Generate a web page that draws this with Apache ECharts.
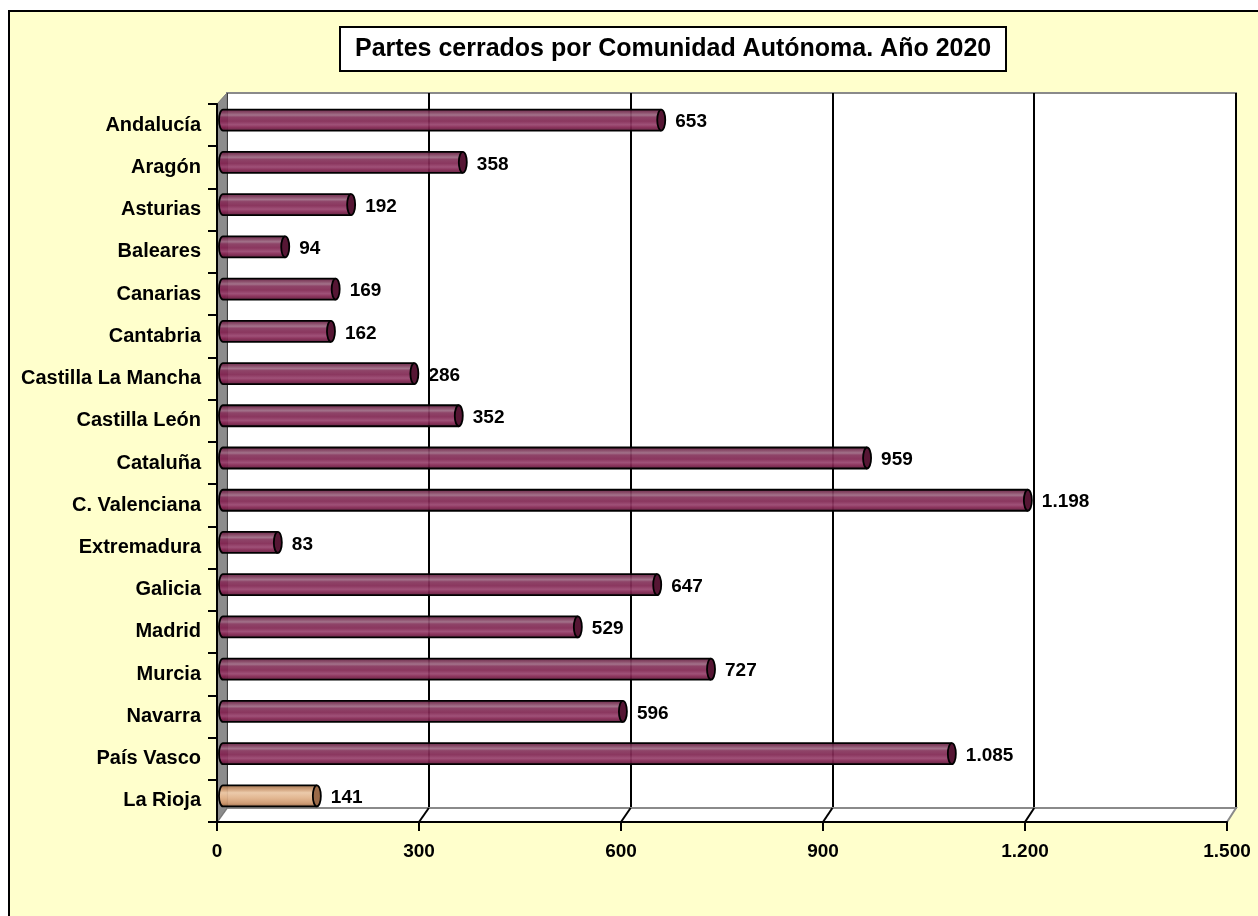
<!DOCTYPE html>
<html>
<head>
<meta charset="utf-8">
<script src="https://cdn.jsdelivr.net/npm/echarts@6/dist/echarts.min.js"></script>
<style>
html,body{margin:0;padding:0;background:#fff;}
#chart{width:1258px;height:916px;}
</style>
</head>
<body>
<div id="chart"></div>
<script>
const titleText = 'Partes cerrados por Comunidad Autónoma. Año 2020';
const categories = ['Andalucía','Aragón','Asturias','Baleares','Canarias','Cantabria','Castilla La Mancha','Castilla León','Cataluña','C. Valenciana','Extremadura','Galicia','Madrid','Murcia','Navarra','País Vasco','La Rioja'];
const values = [653,358,192,94,169,162,286,352,959,1198,83,647,529,727,596,1085,141];
const highlighted = ['La Rioja'];
const axisMin = 0, axisMax = 1500, axisStep = 300;
const axisTicks = [300, 600, 900, 1200];

const FONT = 'Liberation Sans';
function fmt(v){ return String(v).replace(/\B(?=(\d{3})+(?!\d))/g, '.'); }

const plumGrad = new echarts.graphic.LinearGradient(0,0,0,1,[
  {offset:0,color:'#621e40'},{offset:0.12,color:'#7e3a5a'},{offset:0.26,color:'#9c6882'},
  {offset:0.36,color:'#86365d'},{offset:0.55,color:'#822853'},{offset:0.72,color:'#98446e'},
  {offset:0.84,color:'#842652'},{offset:1,color:'#5c1838'}]);
const tanGrad = new echarts.graphic.LinearGradient(0,0,0,1,[
  {offset:0,color:'#a0704a'},{offset:0.2,color:'#cf9e76'},{offset:0.35,color:'#eac6a4'},
  {offset:0.6,color:'#e0b28a'},{offset:0.85,color:'#cc966c'},{offset:1,color:'#9a6944'}]);

const chart = echarts.init(document.getElementById('chart'));
chart.setOption({
  backgroundColor:'#ffffcc',
  animation:false,
  title:{
    text:titleText, left:340, top:27,
    padding:[10,15,9,15],
    backgroundColor:'#fff', borderColor:'#000', borderWidth:2,
    textStyle:{fontFamily:FONT,fontSize:25,fontWeight:'bold',color:'#000'}
  },
  grid:[
    {left:227,right:22,top:93,bottom:108,show:true,backgroundColor:'#fff',borderColor:'#8a8a8a',borderWidth:2},
    {left:217,right:31,top:104,bottom:94},
    {left:222,right:27,top:99,bottom:99}
  ],
  xAxis:[
    {gridIndex:0,type:'value',min:axisMin,max:axisMax,interval:axisStep,
     axisLine:{show:false},axisTick:{show:false},axisLabel:{show:false},
     splitLine:{show:true,lineStyle:{color:'#000',width:2}}},
    {gridIndex:1,type:'value',min:axisMin,max:axisMax,interval:axisStep,z:5,
     axisLine:{show:true,lineStyle:{color:'#000',width:2}},
     axisTick:{show:true,length:9,lineStyle:{color:'#000',width:2}},
     axisLabel:{color:'#000',fontFamily:FONT,fontSize:19,fontWeight:'bold',margin:20,formatter:fmt},
     splitLine:{show:false}},
    {gridIndex:2,type:'value',min:axisMin,max:axisMax,show:false}
  ],
  yAxis:[
    {gridIndex:0,type:'category',data:categories,inverse:true,show:false},
    {gridIndex:1,type:'category',data:categories,inverse:true,z:5,
     axisLine:{show:true,lineStyle:{color:'#000',width:2}},
     axisTick:{show:true,length:9,lineStyle:{color:'#000',width:2}},
     axisLabel:{color:'#000',fontFamily:FONT,fontSize:20,fontWeight:'bold',margin:16}},
    {gridIndex:2,type:'category',data:categories,inverse:true,show:false}
  ],
  graphic:[
    {type:'rect',shape:{x:0,y:0,width:1258,height:10},style:{fill:'#fff'},silent:true},
    {type:'rect',shape:{x:0,y:0,width:8,height:916},style:{fill:'#fff'},silent:true},
    {type:'polyline',shape:{points:[[9,916],[9,11],[1258,11]]},style:{stroke:'#000',lineWidth:2,fill:null},silent:true},
    {type:'polygon',z:1,shape:{points:[[217,822],[227,808],[1236,808],[1227,822]]},style:{fill:'#fff',stroke:'#8a8a8a',lineWidth:2},silent:true},
    {type:'polygon',z:1,shape:{points:[[217,104],[227,93],[227,808],[217,822]]},style:{fill:'#8c8c8c',stroke:'#777',lineWidth:1},silent:true}
  ],
  series:[{
    type:'custom',
    xAxisIndex:2,yAxisIndex:2,
    z:3,
    data:values.map((v,i)=>[v,i]),
    renderItem:function(params,api){
      const v=api.value(0), idx=api.value(1);
      const s=api.coord([0,idx]);
      const e=api.coord([v,idx]);
      const h=21, rx=4;
      const y0=s[1]-h/2;
      const isHi = highlighted.indexOf(categories[idx])>=0;
      const grad = isHi?tanGrad:plumGrad;
      const capFill = isHi?'#9a6a48':'#561634';
      const sx = s[0]+1;
      return {type:'group',children:[
        {type:'ellipse',shape:{cx:sx,cy:s[1],rx:rx,ry:h/2},style:{fill:grad,stroke:null}},
        {type:'rect',shape:{x:sx,y:y0,width:e[0]-sx,height:h},style:{fill:grad,stroke:null,opacity:0.93}},
        {type:'path',shape:{pathData:'M'+sx+','+y0+' A'+rx+','+(h/2)+' 0 0 0 '+sx+','+(y0+h)},style:{fill:null,stroke:'#000',lineWidth:1.8}},
        {type:'line',shape:{x1:sx,y1:y0,x2:e[0],y2:y0},style:{stroke:'#000',lineWidth:1.8}},
        {type:'line',shape:{x1:sx,y1:y0+h,x2:e[0],y2:y0+h},style:{stroke:'#000',lineWidth:1.8}},
        {type:'ellipse',shape:{cx:e[0],cy:s[1],rx:rx,ry:h/2},style:{fill:capFill,stroke:'#000',lineWidth:1.8}},
        {type:'text',x:e[0]+rx+10,y:s[1]+2,
         style:{text:fmt(v),fill:'#000',font:'bold 19px "'+FONT+'"',textAlign:'left',textVerticalAlign:'middle'}}
      ]};
    }
  }]
});

// floor continuation of the back-wall gridlines down to the front axis ticks
const floorLines = axisTicks.map(t => {
  const bx = chart.convertToPixel({xAxisIndex:0}, t);
  const fx = chart.convertToPixel({xAxisIndex:1}, t);
  return {type:'line',z:2,shape:{x1:bx,y1:808,x2:fx,y2:822},style:{stroke:'#000',lineWidth:2},silent:true};
});
chart.setOption({graphic: chart.getOption().graphic[0].elements.concat(floorLines)});
</script>
</body>
</html>
